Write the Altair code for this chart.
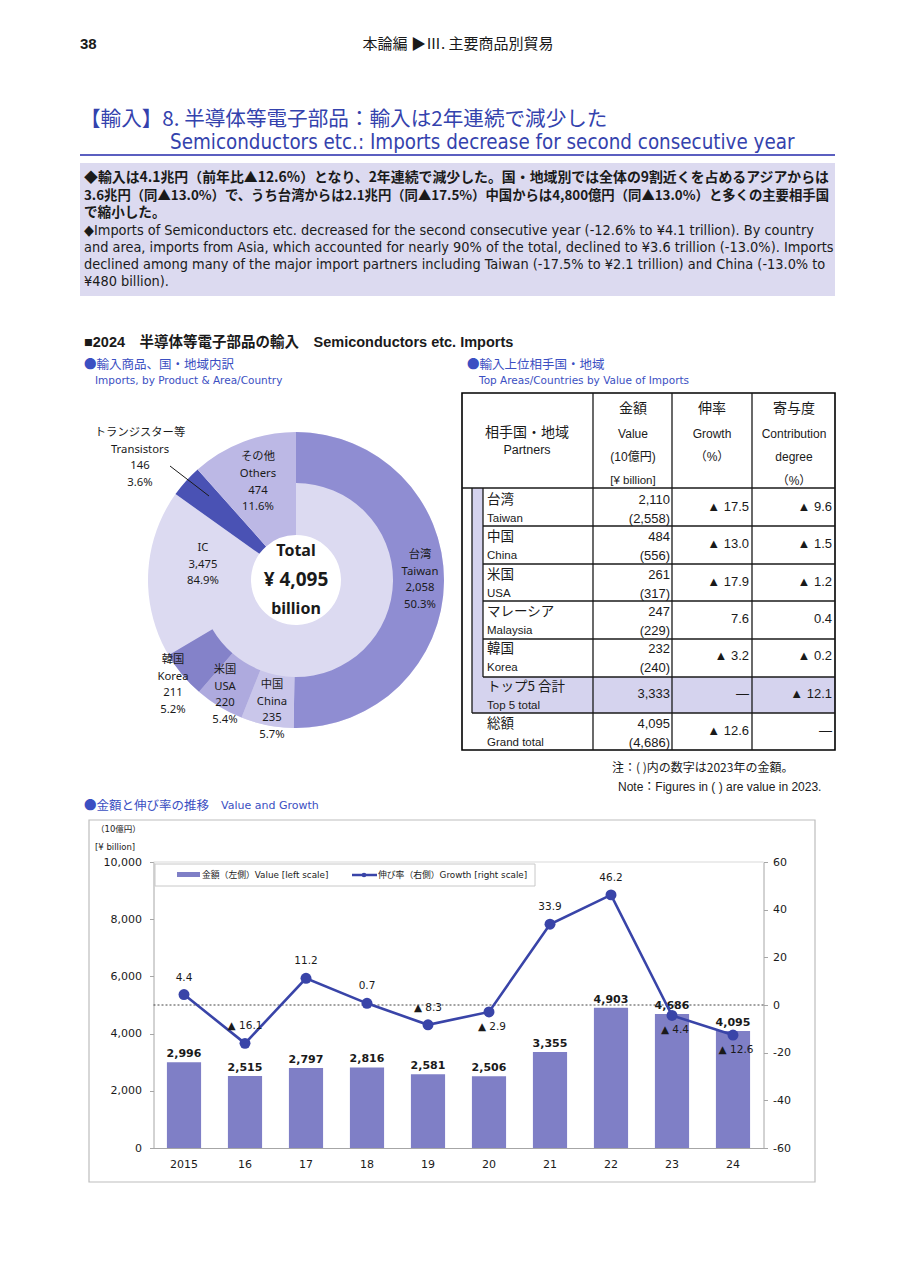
import altair as alt
import pandas as pd

# ---------------- data ----------------
years = ["2015", "16", "17", "18", "19", "20", "21", "22", "23", "24"]
import_values = [2996, 2515, 2797, 2816, 2581, 2506, 3355, 4903, 4686, 4095]
growth_rates = [4.4, -16.1, 11.2, 0.7, -8.3, -2.9, 33.9, 46.2, -4.4, -12.6]

products = ["IC", "トランジスター等", "その他"]
products_en = ["IC", "Transistors", "Others"]
product_values = [3475, 146, 474]

ring_partners = ["台湾", "中国", "米国", "韓国", "その他の国"]
ring_partners_en = ["Taiwan", "China", "USA", "Korea", "Rest"]
ring_values = [2058, 235, 220, 211, 1371]
total_2024 = 4095

tbl_jp = ["台湾", "中国", "米国", "マレーシア", "韓国", "トップ5 合計", "総額"]
tbl_en = ["Taiwan", "China", "USA", "Malaysia", "Korea", "Top 5 total", "Grand total"]
tbl_value = [2110, 484, 261, 247, 232, 3333, 4095]
tbl_prev = [2558, 556, 317, 229, 240, None, 4686]
tbl_growth = [-17.5, -13.0, -17.9, 7.6, -3.2, None, -12.6]
tbl_contrib = [-9.6, -1.5, -1.2, 0.4, -0.2, -12.1, None]

# ---------------- style ----------------
M = 8
W, H = 900, 1264
INK = "#1a1a1a"
TITLE = "#3442ad"
BLUE = "#3b4fc2"
BAR = "#7f7fc6"
LINE = "#3944a8"
LAV = "#dcdaf0"
TBL_LAV = "#d5d3ee"
C_IC, C_TR, C_OT = "#dcdaf1", "#4a52b4", "#bcb8e5"
C_TW, C_CN, C_US, C_KR = "#8f8dd2", "#c9c6ea", "#aeaade", "#8482c9"

JP = "'Noto Sans CJK JP', sans-serif"
ARIAL = "'Liberation Sans', Arial, 'Noto Sans CJK JP', sans-serif"
NARROW = "'Liberation Sans Narrow', 'Arial Narrow', 'DejaVu Sans Condensed', 'Liberation Sans', 'Noto Sans CJK JP', sans-serif"
SANS = "'DejaVu Sans', 'Noto Sans CJK JP', sans-serif"
NOTO = "'Noto Sans', 'Noto Sans CJK JP', sans-serif"

ONE = pd.DataFrame({"k": [0]})


def txt(x, y, s, size=12, color=INK, weight="normal", align="left", font=JP, lh=None, baseline="middle"):
    kw = dict(text=s, fontSize=size, color=color, fontWeight=weight, align=align, baseline=baseline, font=font)
    if lh is not None:
        kw["lineHeight"] = lh
    return alt.Chart(ONE).mark_text(**kw).encode(x=alt.value(x - M), y=alt.value(y - M))


def box(x1, x2, y1, y2, fill=None, stroke=None, sw=1.0):
    kw = {}
    if fill:
        kw["fill"] = fill
        kw["fillOpacity"] = 1
    else:
        kw["fillOpacity"] = 0
    if stroke:
        kw["stroke"] = stroke
        kw["strokeWidth"] = sw
    return alt.Chart(ONE).mark_rect(**kw).encode(
        x=alt.value(x1 - M), x2=alt.value(x2 - M), y=alt.value(y1 - M), y2=alt.value(y2 - M))


def seg(x1, y1, x2, y2, color=INK, width=1.0, dash=None):
    kw = dict(color=color, strokeWidth=width)
    if dash:
        kw["strokeDash"] = dash
    return alt.Chart(ONE).mark_rule(**kw).encode(
        x=alt.value(x1 - M), y=alt.value(y1 - M), x2=alt.value(x2 - M), y2=alt.value(y2 - M))


S = []
# ---------------- header ----------------
S.append(txt(80, 44, "38", 15, weight="bold", font=ARIAL))
S.append(txt(458, 44, "本論編 ▶Ⅲ. 主要商品別貿易", 15, align="center", font=JP))
S.append(txt(80, 120, "【輸入】8. 半導体等電子部品：輸入は2年連続で減少した", 20.6, color=TITLE, font=JP))
S.append(txt(170, 143, "Semiconductors etc.: Imports decrease for second consecutive year", 20.4, color=TITLE, font=NARROW))
S.append(seg(80, 155, 835, 155, color="#5b5fc0", width=2))

# ---------------- description ----------------
S.append(box(80, 835, 163, 296, fill=LAV))
jp_lines = [
    "◆輸入は4.1兆円（前年比▲12.6%）となり、2年連続で減少した。国・地域別では全体の9割近くを占めるアジアからは",
    "3.6兆円（同▲13.0%）で、うち台湾からは2.1兆円（同▲17.5%）中国からは4,800億円（同▲13.0%）と多くの主要相手国",
    "で縮小した。",
]
jp_sizes = [13.9, 13.35, 13.6]
en_lines = [
    "◆Imports of Semiconductors etc. decreased for the second consecutive year (-12.6% to ¥4.1 trillion). By country",
    "and area, imports from Asia, which accounted for nearly 90% of the total, declined to ¥3.6 trillion (-13.0%). Imports",
    "declined among many of the major import partners including Taiwan (-17.5% to ¥2.1 trillion) and China (-13.0% to",
    "¥480 billion).",
]
for i, s in enumerate(jp_lines):
    S.append(txt(84, 178 + i * 17.5, s, jp_sizes[i], weight="bold", font=JP))
for i, s in enumerate(en_lines):
    S.append(txt(84, 231 + i * 17.1, s, 14.4, font=NARROW))

# ---------------- section headings ----------------
S.append(txt(84, 343, "■2024　半導体等電子部品の輸入　Semiconductors etc. Imports", 14.5, weight="bold", font=ARIAL))
S.append(txt(84, 365, "●輸入商品、国・地域内訳", 12.5, color=BLUE, font=JP))
S.append(txt(95, 381, "Imports, by Product & Area/Country", 10.5, color=BLUE, font=SANS))
S.append(txt(467, 365, "●輸入上位相手国・地域", 12.5, color=BLUE, font=JP))
S.append(txt(479, 381, "Top Areas/Countries by Value of Imports", 10.5, color=BLUE, font=SANS))

# ---------------- donut ----------------
CX, CY = 296, 580
prod_df = pd.DataFrame({"name": products, "value": product_values, "idx": range(len(products))})
ring_df = pd.DataFrame({"name": ring_partners, "value": ring_values, "idx": range(len(ring_partners))})
donut_in = alt.Chart(prod_df).mark_arc(innerRadius=45, outerRadius=148).encode(
    theta=alt.Theta("value:Q", stack=True),
    order=alt.Order("idx:Q"),
    color=alt.Color("name:N", scale=alt.Scale(domain=products, range=[C_IC, C_TR, C_OT]), legend=None),
    x=alt.value(CX - M), y=alt.value(CY - M),
)
donut_out = alt.Chart(ring_df).mark_arc(innerRadius=97, outerRadius=148).encode(
    theta=alt.Theta("value:Q", stack=True),
    order=alt.Order("idx:Q"),
    color=alt.Color("name:N", scale=alt.Scale(domain=ring_partners,
                                              range=[C_TW, C_CN, C_US, C_KR, "transparent"]), legend=None),
    x=alt.value(CX - M), y=alt.value(CY - M),
)
donut = alt.layer(donut_in, donut_out).resolve_scale(theta="independent", color="independent")


def pct(v):
    return f"{v / total_2024 * 100:.1f}%"


D = []
D.append(txt(140, 433, [products[1], products_en[1], f"{product_values[1]:,}", pct(product_values[1])],
             11.3, align="center", font=NOTO, lh=16.7))
D.append(seg(170, 466, 209, 496, color=INK, width=1))
D.append(txt(258, 457, [products[2], products_en[2], f"{product_values[2]:,}", pct(product_values[2])],
             11.3, align="center", font=NOTO, lh=16.8))
D.append(txt(203, 548, [products_en[0], f"{product_values[0]:,}", pct(product_values[0])],
             11.3, align="center", font=NOTO, lh=16.5))
label_pos = {"台湾": (420, 555), "韓国": (173, 660), "米国": (225, 670), "中国": (272, 685)}
for name, en, v in zip(ring_partners, ring_partners_en, ring_values):
    if name in label_pos:
        lx, ly = label_pos[name]
        D.append(txt(lx, ly, [name, en, f"{v:,}", pct(v)], 11.3, align="center", font=NOTO, lh=16.7))
D.append(txt(CX, 551, "Total", 16, weight="bold", align="center", font=NOTO))
D.append(txt(CX, 580, f"¥ {total_2024:,}", 19, weight="bold", align="center", font=NOTO))
D.append(txt(CX, 609, "billion", 16, weight="bold", align="center", font=NOTO))

# ---------------- table ----------------
T = []
T.append(box(472, 483, 488, 677, fill=TBL_LAV))
T.append(box(472, 835, 677, 713, fill=TBL_LAV))
T.append(box(462, 835, 393, 750, stroke="#000000", sw=1.6))
for xv in [593, 672, 752]:
    T.append(seg(xv, 393, xv, 750, width=1.3))
T.append(seg(462, 488, 835, 488, width=1.3))
for yv in [526, 564, 601, 639, 677]:
    T.append(seg(483, yv, 835, yv, width=1.3))
T.append(seg(483, 488, 483, 677, width=1.3))
T.append(seg(472, 488, 472, 713, width=1.3))
T.append(seg(472, 713, 835, 713, width=1.3))

T.append(txt(527, 433, "相手国・地域", 14, align="center", font=JP))
T.append(txt(527, 450, "Partners", 12.5, align="center", font=ARIAL))
T.append(txt(633, 409, "金額", 14, align="center", font=JP))
T.append(txt(633, 434, "Value", 12, align="center", font=ARIAL))
T.append(txt(633, 457, "(10億円)", 12, align="center", font=ARIAL))
T.append(txt(633, 481, "[¥ billion]", 11.5, align="center", font=ARIAL))
T.append(txt(712, 409, "伸率", 14, align="center", font=JP))
T.append(txt(712, 434, "Growth", 12, align="center", font=ARIAL))
T.append(txt(712, 457, "（%）", 12, align="center", font=ARIAL))
T.append(txt(794, 409, "寄与度", 14, align="center", font=JP))
T.append(txt(794, 434, "Contribution", 12, align="center", font=ARIAL))
T.append(txt(794, 457, "degree", 12, align="center", font=ARIAL))
T.append(txt(794, 481, "（%）", 12, align="center", font=ARIAL))


def tri(v):
    if v is None:
        return "—"
    return f"▲ {abs(v):.1f}" if v < 0 else f"{v:.1f}"


tbl_df = pd.DataFrame({
    "row": [i + 0.5 for i in range(len(tbl_jp))],
    "jp": tbl_jp, "en": tbl_en,
    "val_s": [f"{v:,}" for v in tbl_value],
    "prev_s": ["" if p is None else f"({p:,})" for p in tbl_prev],
    "gr_s": [tri(g) for g in tbl_growth],
    "ct_s": [tri(c) for c in tbl_contrib],
})
rowY = alt.Y("row:Q", scale=alt.Scale(domain=[0, len(tbl_jp)], range=[488 - M, 750 - M], nice=False, zero=False), axis=None)
tb = alt.Chart(tbl_df)
tbl_layer = alt.layer(
    tb.mark_text(align="left", font=JP, fontSize=13.5, dy=-7, color=INK).encode(x=alt.value(487 - M), y=rowY, text="jp:N"),
    tb.mark_text(align="left", font=ARIAL, fontSize=11.5, dy=12, color=INK).encode(x=alt.value(487 - M), y=rowY, text="en:N"),
    tb.transform_filter("datum.prev_s != ''").mark_text(align="right", font=ARIAL, fontSize=13, dy=-7, color=INK).encode(
        x=alt.value(670 - M), y=rowY, text="val_s:N"),
    tb.transform_filter("datum.prev_s == ''").mark_text(align="right", font=ARIAL, fontSize=13, color=INK).encode(
        x=alt.value(670 - M), y=rowY, text="val_s:N"),
    tb.mark_text(align="right", font=ARIAL, fontSize=13, dy=12, color=INK).encode(x=alt.value(670 - M), y=rowY, text="prev_s:N"),
    tb.mark_text(align="right", font=ARIAL, fontSize=13, color=INK).encode(x=alt.value(749 - M), y=rowY, text="gr_s:N"),
    tb.mark_text(align="right", font=ARIAL, fontSize=13, color=INK).encode(x=alt.value(832 - M), y=rowY, text="ct_s:N"),
)
T.append(txt(612, 768, "注：( )内の数字は2023年の金額。", 12, font=JP))
T.append(txt(618, 787, "Note：Figures in ( ) are value in 2023.", 12, font=ARIAL))

# ---------------- bar + line chart ----------------
B = []
B.append(txt(84, 806, "●金額と伸び率の推移", 12.5, color=BLUE, font=JP))
B.append(txt(221, 806, "Value and Growth", 11, color=BLUE, font=SANS))
B.append(box(89, 815, 820, 1182, stroke="#bdbdbd", sw=1.2))
B.append(txt(96, 829, "（10億円）", 8.5, font=SANS))
B.append(txt(95, 847, "[¥ billion]", 8.5, font=SANS))
B.append(seg(153.5, 862, 763.5, 862, color="#d9d9d9", width=1))
B.append(seg(153.5, 1005, 763.5, 1005, color="#444444", width=1, dash=[2, 2]))

df = pd.DataFrame({"year": years, "value": import_values, "growth": growth_rates})
df["vlabel"] = [f"{v:,}" for v in import_values]
df["glabel"] = [f"{g:.1f}" if g >= 0 else f"▲ {abs(g):.1f}" for g in growth_rates]
below_years = ["20", "23", "24"]

PX0, PX1 = 153.5, 763.5
PY0, PY1 = 1148, 862
xs = alt.X("year:N", sort=years,
           scale=alt.Scale(domain=years, range=[PX0 - M, PX1 - M], paddingInner=0.44, paddingOuter=0.22),
           axis=alt.Axis(title=None, orient="bottom", offset=-(H - (PY0 - M)), labelAngle=0, ticks=False,
                         domainColor="#a6a6a6", labelFont=SANS, labelFontSize=11, labelColor=INK, labelPadding=10))
yl = alt.Y("value:Q", scale=alt.Scale(domain=[0, 10000], range=[PY0 - M, PY1 - M], nice=False),
           axis=alt.Axis(title=None, orient="left", offset=-(PX0 - M), values=[0, 2000, 4000, 6000, 8000, 10000],
                         format=",.0f", grid=False, tickSize=4, tickColor="#a6a6a6", domainColor="#a6a6a6",
                         labelFont=SANS, labelFontSize=11, labelColor=INK, labelPadding=8))
yr = alt.Y("growth:Q", scale=alt.Scale(domain=[-60, 60], range=[PY0 - M, PY1 - M], nice=False),
           axis=alt.Axis(title=None, orient="right", offset=-(W - (PX1 - M)), values=[-60, -40, -20, 0, 20, 40, 60],
                         labelExpr="'' + datum.value",
                         grid=False, tickSize=4, tickColor="#a6a6a6", domainColor="#a6a6a6",
                         labelFont=SANS, labelFontSize=11, labelColor=INK, labelPadding=5))

base = alt.Chart(df)
bars = base.mark_bar(color=BAR).encode(x=xs, y=yl)
bar_lbl = base.mark_text(baseline="bottom", dy=-3, font=SANS, fontWeight="bold", fontSize=11, color=INK).encode(
    x=xs, y=yl, text="vlabel:N")
left_grp = alt.layer(bars, bar_lbl)

ln = base.mark_line(color=LINE, strokeWidth=2.6).encode(x=xs, y=yr)
pts = base.mark_point(filled=True, size=120, color=LINE, opacity=1).encode(x=xs, y=yr)
g_above = base.transform_filter(alt.FieldOneOfPredicate(field="year", oneOf=[y for y in years if y not in below_years])).mark_text(
    dy=-17, font=SANS, fontSize=10.5, color=INK).encode(x=xs, y=yr, text="glabel:N")
g_below = base.transform_filter(alt.FieldOneOfPredicate(field="year", oneOf=below_years)).mark_text(
    dy=15, dx=3, font=SANS, fontSize=10.5, color=INK).encode(x=xs, y=yr, text="glabel:N")
right_grp = alt.layer(ln, pts, g_above, g_below)
combo = alt.layer(left_grp, right_grp).resolve_scale(y="independent")

# legend
L = []
L.append(box(155, 535, 864, 886, fill="#ffffff", stroke="#c8c8c8", sw=1))
L.append(box(177, 200, 872, 877, fill=BAR))
L.append(txt(202, 875, "金額（左側）Value [left scale]", 8.8, font=SANS))
L.append(seg(352, 875, 377, 875, color=LINE, width=2.5))
L.append(alt.Chart(ONE).mark_point(filled=True, size=22, color=LINE, opacity=1).encode(
    x=alt.value(364 - M), y=alt.value(875 - M)))
L.append(txt(378, 875, "伸び率（右側）Growth [right scale]", 8.8, font=SANS))

chart = alt.layer(
    *S, *B, donut, *D, *T, tbl_layer, combo, *L
).resolve_scale(x="independent", y="independent", theta="independent", color="independent").properties(
    width=W, height=H, padding=0, background="white",
    autosize=alt.AutoSizeParams(type="none"),
).configure_view(strokeWidth=0)

chart.save("out.html", embed_options={"renderer": "svg", "actions": False})
